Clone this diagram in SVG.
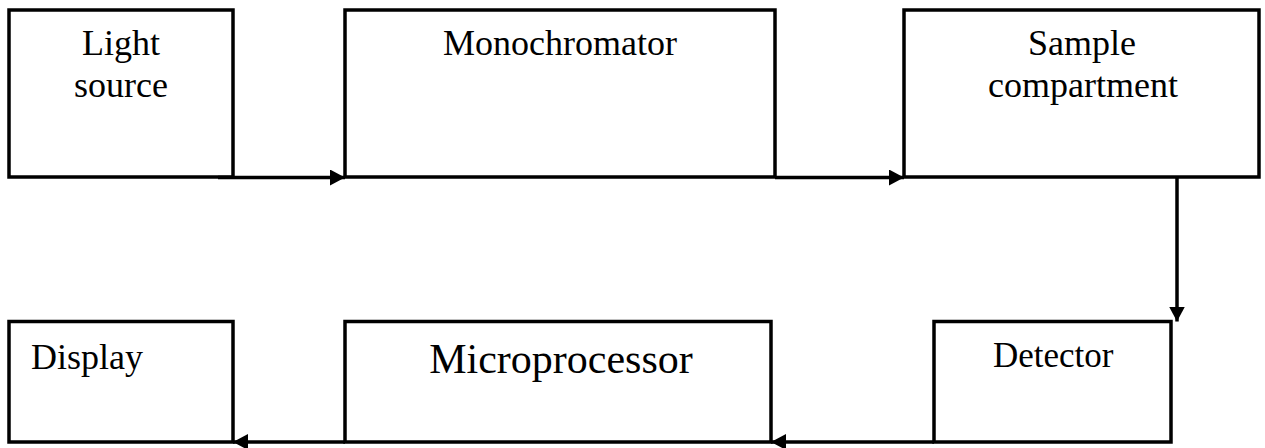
<svg xmlns="http://www.w3.org/2000/svg" width="1265" height="448" viewBox="0 0 1265 448">
<style>
.box{fill:#fff;stroke:#000;stroke-width:3.5}
.t{font-family:"Liberation Serif","Times New Roman",serif;fill:#000;font-size:36px}
.c{text-anchor:middle}
.ln{stroke:#000;stroke-width:3.5;fill:none}
</style>
<defs>
<marker id="ah" markerUnits="userSpaceOnUse" markerWidth="15" markerHeight="16" refX="15" refY="8" orient="auto">
<path d="M0,0 L15,8 L0,16 z" fill="#000"/>
</marker>
</defs>
<g id="light-source">
<rect class="box" x="9" y="10" width="224" height="167"/>
<text class="t c" x="121" y="55">Light</text>
<text class="t c" x="121" y="97">source</text>
</g>
<g id="monochromator">
<rect class="box" x="345" y="10" width="430" height="167"/>
<text class="t c" x="560" y="55">Monochromator</text>
</g>
<g id="sample-compartment">
<rect class="box" x="904" y="10" width="355" height="167"/>
<text class="t c" x="1082" y="55">Sample</text>
<text class="t c" x="1083" y="97">compartment</text>
</g>
<g id="detector">
<rect class="box" x="934" y="321.5" width="237" height="120.5"/>
<text class="t" x="993" y="367" style="font-size:35px">Detector</text>
</g>
<g id="microprocessor">
<rect class="box" x="345" y="321.5" width="426" height="120.5"/>
<text class="t c" x="561" y="373" style="font-size:42px">Microprocessor</text>
</g>
<g id="display">
<rect class="box" x="9" y="321.5" width="224" height="120.5"/>
<text class="t" x="31" y="369">Display</text>
</g>
<g id="connectors">
<line class="ln" x1="218" y1="177.5" x2="345" y2="177.5" marker-end="url(#ah)"/>
<line class="ln" x1="775" y1="177.5" x2="904" y2="177.5" marker-end="url(#ah)"/>
<line class="ln" x1="1177" y1="177" x2="1177" y2="321.5" marker-end="url(#ah)"/>
<line class="ln" x1="934" y1="442" x2="771" y2="442" marker-end="url(#ah)"/>
<line class="ln" x1="345" y1="442" x2="233" y2="442" marker-end="url(#ah)"/>
</g>
</svg>
